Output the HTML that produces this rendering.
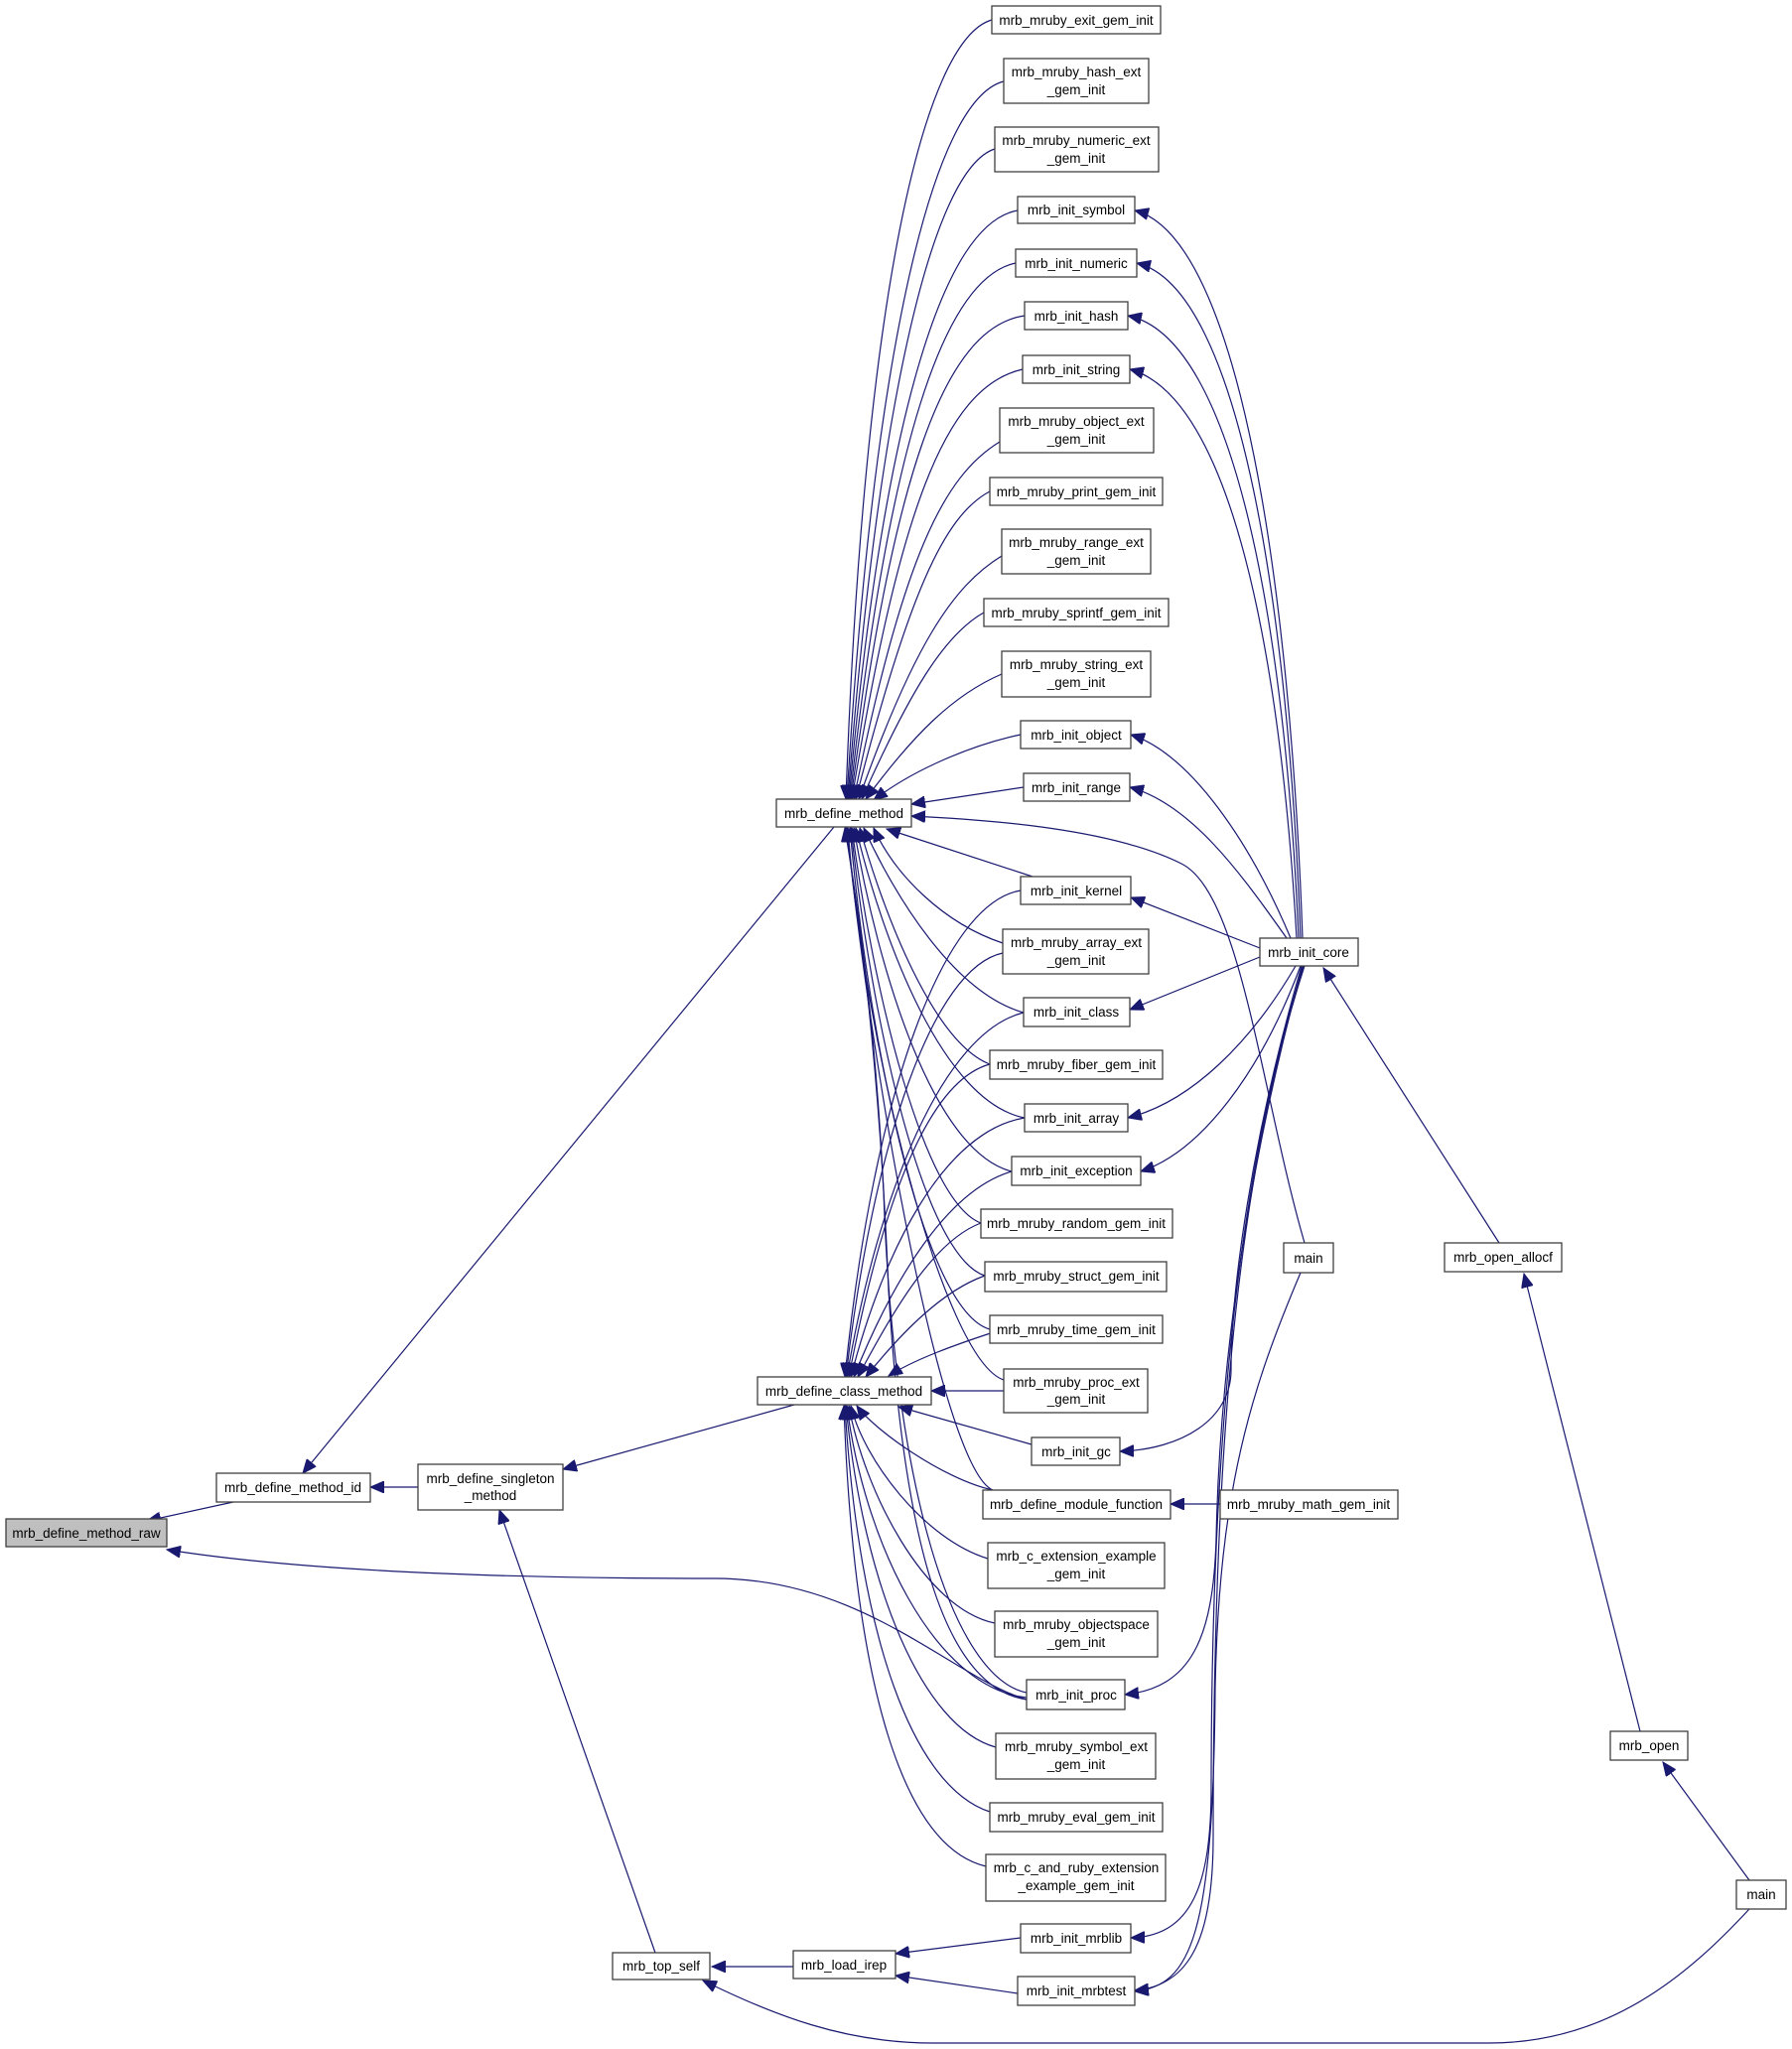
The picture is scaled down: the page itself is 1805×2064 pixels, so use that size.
<!DOCTYPE html>
<html><head><meta charset="utf-8"><style>
html,body{margin:0;padding:0;background:#fff;}
svg{display:block;}
text{font-family:"Liberation Sans",Arial,sans-serif;font-size:13.5px;fill:#000;text-anchor:middle;}
rect{fill:#fff;stroke:#404040;stroke-width:1.3;}
path{fill:none;stroke:#191970;stroke-width:1.2;}
</style></head><body>
<svg width="1805" height="2064" viewBox="0 0 1805 2064" xmlns="http://www.w3.org/2000/svg">
<defs>
<marker id="a" markerUnits="userSpaceOnUse" markerWidth="16" markerHeight="12" refX="14" refY="6" orient="auto">
<path d="M0,0 L14,6 L0,12 Z" style="fill:#191970;stroke:#191970;stroke-width:1"/>
</marker>
</defs>
<g marker-end="url(#a)">
<!-- to define_method top -->
<path d="M999,20 C930,40 870,300 852,805"/>
<path d="M1011,82 C940,100 880,350 853,805"/>
<path d="M1002,150 C940,170 885,400 854,805"/>
<path d="M1025,212 C950,225 890,420 855,805"/>
<path d="M1023,265 C950,280 895,450 856,805"/>
<path d="M1032,318 C950,330 900,480 857,805"/>
<path d="M1030,372 C950,390 905,520 858,805"/>
<path d="M1007,445 C950,480 910,560 860,805"/>
<path d="M997,495 C950,520 915,600 862,805"/>
<path d="M1009,560 C960,590 920,650 865,805"/>
<path d="M991,617 C950,640 915,700 868,805"/>
<path d="M1009,679 C960,700 920,740 872,805"/>
<path d="M1028,740 C980,750 920,775 880,806"/>
<path d="M1031,793 L918,810"/>
<path d="M1314,1252 C1270,1100 1250,900 1190,870 C1120,835 1000,826 918,822"/>
<!-- to define_method bottom -->
<path d="M1040,883 L893,835"/>
<path d="M1010,950 C950,930 900,880 880,834"/>
<path d="M1031,1020 C960,1000 900,900 870,834"/>
<path d="M997,1072 C940,1050 890,920 866,834"/>
<path d="M1032,1126 C950,1110 890,950 862,834"/>
<path d="M1019,1180 C940,1160 885,980 860,834"/>
<path d="M988,1232 C930,1210 880,1000 858,834"/>
<path d="M992,1285 C930,1265 878,1030 857,834"/>
<path d="M997,1339 C930,1320 875,1050 856,834"/>
<path d="M1011,1390 C950,1370 870,1050 854,834"/>
<path d="M1000,1501 C950,1480 880,1100 853,834"/>
<path d="M1034,1705 C960,1690 900,1500 890,1200 C880,1000 860,900 852,834"/>
<path d="M1034,1712 C950,1700 910,1550 895,1300 C885,1050 862,900 851,834"/>
<!-- to define_class_method top -->
<path d="M1028,897 C950,910 880,1100 851,1387"/>
<path d="M1010,960 C940,975 880,1150 852,1387"/>
<path d="M1031,1020 C950,1040 885,1200 853,1387"/>
<path d="M997,1072 C930,1090 885,1230 855,1387"/>
<path d="M1032,1126 C950,1140 890,1260 857,1387"/>
<path d="M1019,1180 C950,1200 895,1300 860,1387"/>
<path d="M988,1232 C940,1250 900,1320 864,1387"/>
<path d="M992,1285 C950,1300 910,1340 872,1387"/>
<path d="M1010,1339 C960,1355 920,1370 895,1386"/>
<path d="M1011,1401 L938,1401"/>
<!-- to define_class_method bottom -->
<path d="M1039,1455 L905,1417"/>
<path d="M1000,1501 C950,1490 880,1440 863,1416"/>
<path d="M995,1570 C930,1550 870,1470 857,1416"/>
<path d="M1002,1635 C930,1620 870,1500 855,1416"/>
<path d="M1034,1710 C940,1700 870,1550 853,1416"/>
<path d="M1003,1760 C930,1740 870,1600 852,1416"/>
<path d="M997,1825 C920,1800 865,1650 851,1416"/>
<path d="M993,1880 C910,1860 860,1700 850,1416"/>
<!-- init_core edges -->
<path d="M1312,945 C1300,600 1250,240 1143,212"/>
<path d="M1310,945 C1298,620 1250,290 1145,265"/>
<path d="M1308,945 C1295,640 1245,340 1136,318"/>
<path d="M1306,945 C1290,660 1240,400 1138,372"/>
<path d="M1300,945 C1260,850 1200,760 1139,740"/>
<path d="M1296,945 C1250,880 1200,810 1138,793"/>
<path d="M1269,955 L1139,904"/>
<path d="M1269,964 L1138,1017"/>
<path d="M1305,973 C1260,1050 1200,1110 1136,1126"/>
<path d="M1310,973 C1270,1080 1210,1160 1149,1180"/>
<path d="M1311,973 C1260,1150 1240,1300 1240,1380 C1240,1430 1190,1460 1128,1462"/>
<path d="M1312,973 C1250,1200 1228,1400 1225,1550 C1222,1650 1200,1700 1133,1707"/>
<path d="M1313,973 C1240,1200 1220,1500 1220,1800 C1220,1900 1200,1950 1139,1952"/>
<path d="M1314,973 C1240,1200 1222,1500 1222,1850 C1222,1950 1200,2000 1143,2005"/>
<path d="M1310,1282 C1260,1400 1228,1500 1224,1700 C1222,1950 1200,2000 1143,2006"/>
<path d="M1510,1252 L1333,975"/>
<path d="M1652,1744 L1535,1283"/>
<path d="M1762,1894 L1675,1775"/>
<path d="M1255,1515 L1179,1515"/>
<!-- bottom-left -->
<path d="M1762,1923 C1700,1990 1620,2058 1500,2058 L940,2058 C850,2058 780,2030 708,1995"/>
<path d="M799,1981 L717,1981"/>
<path d="M1028,1952 L902,1968"/>
<path d="M1025,2008 L902,1990"/>
<path d="M660,1967 L503,1521"/>
<path d="M421,1498 L373,1498"/>
<path d="M800,1415 L567,1480"/>
<path d="M840,833 L305,1484"/>
<path d="M235,1513 L148,1532"/>
<path d="M1034,1712 C960,1690 870,1590 720,1590 C500,1590 300,1582 168,1561"/>
</g>
<!-- nodes -->
<rect x="6" y="1530" width="162" height="28" style="fill:#bfbfbf"/><text x="87" y="1549">mrb_define_method_raw</text>
<rect x="218" y="1484" width="155" height="29"/><text x="295" y="1503">mrb_define_method_id</text>
<rect x="421" y="1475" width="146" height="46"/><text x="494" y="1494">mrb_define_singleton</text><text x="494" y="1511">_method</text>
<rect x="782" y="805" width="136" height="28"/><text x="850" y="824">mrb_define_method</text>
<rect x="763" y="1387" width="175" height="28"/><text x="850" y="1406">mrb_define_class_method</text>
<rect x="617" y="1967" width="98" height="27"/><text x="666" y="1985">mrb_top_self</text>
<rect x="799" y="1965" width="103" height="28"/><text x="850" y="1984">mrb_load_irep</text>
<rect x="999" y="6" width="170" height="28"/><text x="1084" y="25">mrb_mruby_exit_gem_init</text>
<rect x="1011" y="59" width="146" height="45"/><text x="1084" y="77">mrb_mruby_hash_ext</text><text x="1084" y="95">_gem_init</text>
<rect x="1002" y="128" width="165" height="45"/><text x="1084" y="146">mrb_mruby_numeric_ext</text><text x="1084" y="164">_gem_init</text>
<rect x="1025" y="198" width="118" height="27"/><text x="1084" y="216">mrb_init_symbol</text>
<rect x="1023" y="251" width="122" height="28"/><text x="1084" y="270">mrb_init_numeric</text>
<rect x="1032" y="304" width="104" height="28"/><text x="1084" y="323">mrb_init_hash</text>
<rect x="1030" y="358" width="108" height="28"/><text x="1084" y="377">mrb_init_string</text>
<rect x="1007" y="411" width="155" height="45"/><text x="1084" y="429">mrb_mruby_object_ext</text><text x="1084" y="447">_gem_init</text>
<rect x="997" y="481" width="174" height="28"/><text x="1084" y="500">mrb_mruby_print_gem_init</text>
<rect x="1009" y="533" width="150" height="45"/><text x="1084" y="551">mrb_mruby_range_ext</text><text x="1084" y="569">_gem_init</text>
<rect x="991" y="603" width="186" height="28"/><text x="1084" y="622">mrb_mruby_sprintf_gem_init</text>
<rect x="1009" y="656" width="150" height="46"/><text x="1084" y="674">mrb_mruby_string_ext</text><text x="1084" y="692">_gem_init</text>
<rect x="1028" y="726" width="111" height="28"/><text x="1084" y="745">mrb_init_object</text>
<rect x="1031" y="779" width="107" height="28"/><text x="1084" y="798">mrb_init_range</text>
<rect x="1028" y="883" width="111" height="28"/><text x="1084" y="902">mrb_init_kernel</text>
<rect x="1010" y="936" width="147" height="45"/><text x="1084" y="954">mrb_mruby_array_ext</text><text x="1084" y="972">_gem_init</text>
<rect x="1269" y="945" width="99" height="28"/><text x="1318" y="964">mrb_init_core</text>
<rect x="1031" y="1005" width="107" height="29"/><text x="1084" y="1024">mrb_init_class</text>
<rect x="997" y="1058" width="174" height="29"/><text x="1084" y="1077">mrb_mruby_fiber_gem_init</text>
<rect x="1032" y="1112" width="104" height="28"/><text x="1084" y="1131">mrb_init_array</text>
<rect x="1019" y="1165" width="130" height="29"/><text x="1084" y="1184">mrb_init_exception</text>
<rect x="988" y="1218" width="193" height="29"/><text x="1084" y="1237">mrb_mruby_random_gem_init</text>
<rect x="992" y="1271" width="183" height="30"/><text x="1084" y="1290">mrb_mruby_struct_gem_init</text>
<rect x="997" y="1325" width="174" height="28"/><text x="1084" y="1344">mrb_mruby_time_gem_init</text>
<rect x="1011" y="1379" width="145" height="44"/><text x="1084" y="1397">mrb_mruby_proc_ext</text><text x="1084" y="1414">_gem_init</text>
<rect x="1039" y="1448" width="89" height="28"/><text x="1084" y="1467">mrb_init_gc</text>
<rect x="990" y="1501" width="189" height="29"/><text x="1084" y="1520">mrb_define_module_function</text>
<rect x="1229" y="1501" width="179" height="29"/><text x="1318" y="1520">mrb_mruby_math_gem_init</text>
<rect x="995" y="1554" width="178" height="46"/><text x="1084" y="1572">mrb_c_extension_example</text><text x="1084" y="1590">_gem_init</text>
<rect x="1002" y="1623" width="164" height="46"/><text x="1084" y="1641">mrb_mruby_objectspace</text><text x="1084" y="1659">_gem_init</text>
<rect x="1034" y="1692" width="99" height="30"/><text x="1084" y="1712">mrb_init_proc</text>
<rect x="1003" y="1746" width="161" height="46"/><text x="1084" y="1764">mrb_mruby_symbol_ext</text><text x="1084" y="1782">_gem_init</text>
<rect x="997" y="1816" width="174" height="29"/><text x="1084" y="1835">mrb_mruby_eval_gem_init</text>
<rect x="993" y="1868" width="181" height="47"/><text x="1084" y="1886">mrb_c_and_ruby_extension</text><text x="1084" y="1904">_example_gem_init</text>
<rect x="1028" y="1938" width="111" height="29"/><text x="1084" y="1957">mrb_init_mrblib</text>
<rect x="1025" y="1991" width="118" height="29"/><text x="1084" y="2010">mrb_init_mrbtest</text>
<rect x="1293" y="1252" width="50" height="30"/><text x="1318" y="1272">main</text>
<rect x="1455" y="1252" width="118" height="29"/><text x="1514" y="1271">mrb_open_allocf</text>
<rect x="1622" y="1744" width="78" height="29"/><text x="1661" y="1763">mrb_open</text>
<rect x="1749" y="1894" width="50" height="29"/><text x="1774" y="1913">main</text>
</svg>
</body></html>
